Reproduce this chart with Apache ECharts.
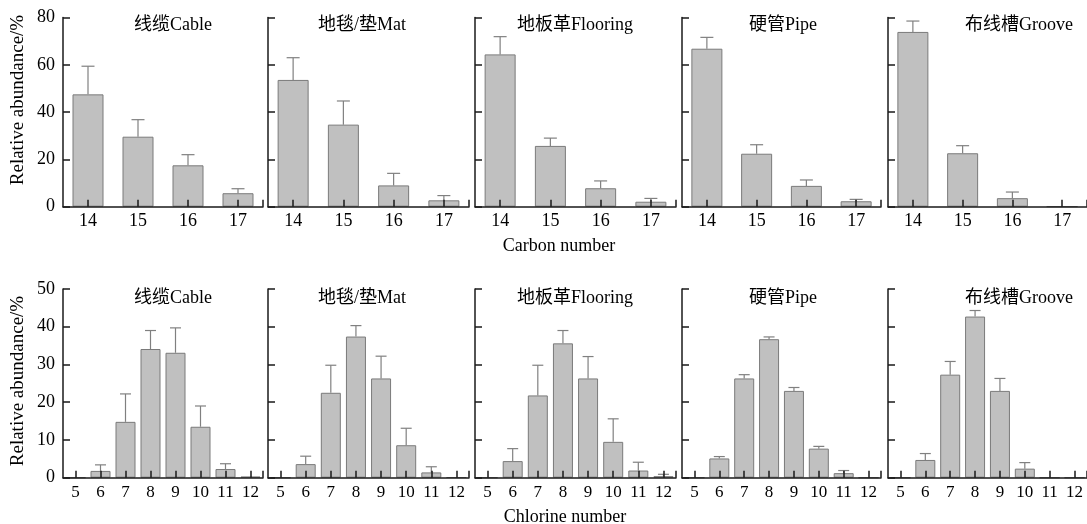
<!DOCTYPE html>
<html>
<head>
<meta charset="utf-8">
<script src="https://cdn.jsdelivr.net/npm/echarts@6/dist/echarts.min.js"></script>
<style>html,body{margin:0;padding:0;background:#fff;}#c{width:1087px;height:524px;}</style>
</head>
<body>
<div id="c"></div>
<script>
// ---------- data ----------
const panelTitles = ['线缆Cable', '地毯/垫Mat', '地板革Flooring', '硬管Pipe', '布线槽Groove'];
const carbonNumbers = [14, 15, 16, 17];
const chlorineNumbers = [5, 6, 7, 8, 9, 10, 11, 12];
const carbonTicks = [0, 20, 40, 60, 80];
const chlorineTicks = [0, 10, 20, 30, 40, 50];

const carbonCable = [47.5, 29.6, 17.5, 5.7];
const carbonCableErr = [11.9, 7.2, 4.5, 1.9];
const carbonMat = [53.6, 34.7, 9.0, 2.7];
const carbonMatErr = [9.4, 10.0, 5.1, 2.0];
const carbonFlooring = [64.4, 25.7, 7.8, 2.1];
const carbonFlooringErr = [7.5, 3.3, 3.1, 1.4];
const carbonPipe = [66.8, 22.4, 8.8, 2.3];
const carbonPipeErr = [4.8, 3.8, 2.5, 0.8];
const carbonGroove = [73.9, 22.6, 3.6, 0.1];
const carbonGrooveErr = [4.6, 3.2, 2.6, 0];

const chlorineCable = [0, 1.8, 14.8, 34.1, 33.1, 13.5, 2.3, 0.3];
const chlorineCableErr = [0, 1.6, 7.4, 4.9, 6.6, 5.5, 1.4, 0];
const chlorineMat = [0, 3.6, 22.5, 37.4, 26.3, 8.6, 1.4, 0.1];
const chlorineMatErr = [0, 2.1, 7.3, 2.9, 5.9, 4.5, 1.5, 0];
const chlorineFlooring = [0, 4.4, 21.8, 35.6, 26.3, 9.5, 1.9, 0.4];
const chlorineFlooringErr = [0, 3.3, 8.0, 3.4, 5.8, 6.1, 2.2, 0.5];
const chlorinePipe = [0, 5.1, 26.3, 36.7, 23.0, 7.7, 1.2, 0];
const chlorinePipeErr = [0, 0.5, 1.0, 0.6, 0.9, 0.6, 0.7, 0];
const chlorineGroove = [0, 4.7, 27.3, 42.7, 23.0, 2.4, 0, 0];
const chlorineGrooveErr = [0, 1.7, 3.5, 1.6, 3.3, 1.6, 0, 0];

// ---------- layout / style ----------
const carbonMeans = [carbonCable, carbonMat, carbonFlooring, carbonPipe, carbonGroove];
const carbonErrs = [carbonCableErr, carbonMatErr, carbonFlooringErr, carbonPipeErr, carbonGrooveErr];
const chlorineMeans = [chlorineCable, chlorineMat, chlorineFlooring, chlorinePipe, chlorineGroove];
const chlorineErrs = [chlorineCableErr, chlorineMatErr, chlorineFlooringErr, chlorinePipeErr, chlorineGrooveErr];

const gridLefts = [63, 268, 475, 682, 888];
const gridWidths = [200, 201, 201, 199, 199];
const titleXs = [173, 362, 575, 783, 1019];
const FONT = '"Liberation Serif", "Times New Roman", "Noto Sans CJK SC", serif';
const AX = '#1a1a1a';
const BAR = '#c0c0c0';
const BARB = '#7a7a7a';
const ERR = '#808080';

const grids = [], xAxes = [], yAxes = [], series = [], graphics = [];

function addRow(rowIdx, cats, meansAll, errsAll, yTicks, top, height, barW, capHalf, titleY) {
  const lo = cats[0] - 0.5, hi = cats[cats.length - 1] + 0.5;
  for (let p = 0; p < 5; p++) {
    const gi = grids.length;
    grids.push({ left: gridLefts[p], width: gridWidths[p], top: top, height: height });
    xAxes.push({
      type: 'value', gridIndex: gi, min: lo, max: hi, z: 5,
      splitLine: { show: false },
      axisLine: { show: true, onZero: false, lineStyle: { color: AX, width: 1.5 } },
      axisTick: { show: true, inside: true, length: 7, customValues: cats.concat([hi]), lineStyle: { color: AX, width: 1.5 } },
      axisLabel: { show: true, customValues: cats, margin: 6, color: '#000', fontFamily: FONT, fontSize: rowIdx === 0 ? 18 : 17 }
    });
    yAxes.push({
      type: 'value', gridIndex: gi, min: yTicks[0], max: yTicks[yTicks.length - 1],
      interval: yTicks[1] - yTicks[0], z: 5,
      splitLine: { show: false },
      axisLine: { show: true, lineStyle: { color: AX, width: 1.5 } },
      axisTick: { show: true, inside: true, length: 7, lineStyle: { color: AX, width: 1.5 } },
      axisLabel: { show: p === 0, margin: 8, color: '#000', fontFamily: FONT, fontSize: 18 }
    });
    const means = meansAll[p], errs = errsAll[p];
    series.push({
      type: 'bar', xAxisIndex: gi, yAxisIndex: gi, barWidth: barW, z: 2,
      itemStyle: { color: BAR, borderColor: BARB, borderWidth: 1 },
      data: cats.map((c, i) => [c, means[i]]),
      animation: false
    });
    series.push({
      type: 'custom', xAxisIndex: gi, yAxisIndex: gi, z: 3,
      encode: { x: 0, y: 1 },
      data: cats.map((c, i) => [c, means[i], errs[i]]),
      renderItem: function (params, api) {
        const e = api.value(2);
        if (!(e > 0)) return null;
        const m = api.value(1), x = api.value(0);
        const p0 = api.coord([x, m]);
        const p1 = api.coord([x, m + e]);
        const st = { stroke: ERR, lineWidth: 1.2 };
        return {
          type: 'group', children: [
            { type: 'line', shape: { x1: p0[0], y1: p0[1], x2: p1[0], y2: p1[1] }, style: st },
            { type: 'line', shape: { x1: p1[0] - capHalf, y1: p1[1], x2: p1[0] + capHalf, y2: p1[1] }, style: st }
          ]
        };
      },
      animation: false
    });
    graphics.push({
      type: 'text', x: titleXs[p], y: titleY,
      style: { text: panelTitles[p], font: '18px ' + FONT, fill: '#000', textAlign: 'center', textVerticalAlign: 'middle' }
    });
  }
}

addRow(0, carbonNumbers, carbonMeans, carbonErrs, carbonTicks, 17.5, 189.2, 31, 6.5, 25);
addRow(1, chlorineNumbers, chlorineMeans, chlorineErrs, chlorineTicks, 289, 188.7, 20, 5.5, 298);

graphics.push({ type: 'text', x: 559, y: 246, style: { text: 'Carbon number', font: '18px ' + FONT, fill: '#000', textAlign: 'center', textVerticalAlign: 'middle' } });
graphics.push({ type: 'text', x: 565, y: 517, style: { text: 'Chlorine number', font: '18px ' + FONT, fill: '#000', textAlign: 'center', textVerticalAlign: 'middle' } });
graphics.push({ type: 'text', x: 18, y: 100, rotation: Math.PI / 2, style: { text: 'Relative abundance/%', font: '19px ' + FONT, fill: '#000', textAlign: 'center', textVerticalAlign: 'middle' } });
graphics.push({ type: 'text', x: 18, y: 381, rotation: Math.PI / 2, style: { text: 'Relative abundance/%', font: '19px ' + FONT, fill: '#000', textAlign: 'center', textVerticalAlign: 'middle' } });

const chart = echarts.init(document.getElementById('c'), null, { renderer: 'canvas' });
chart.setOption({
  animation: false,
  backgroundColor: '#fff',
  grid: grids,
  xAxis: xAxes,
  yAxis: yAxes,
  series: series,
  graphic: graphics
});
</script>
</body>
</html>
